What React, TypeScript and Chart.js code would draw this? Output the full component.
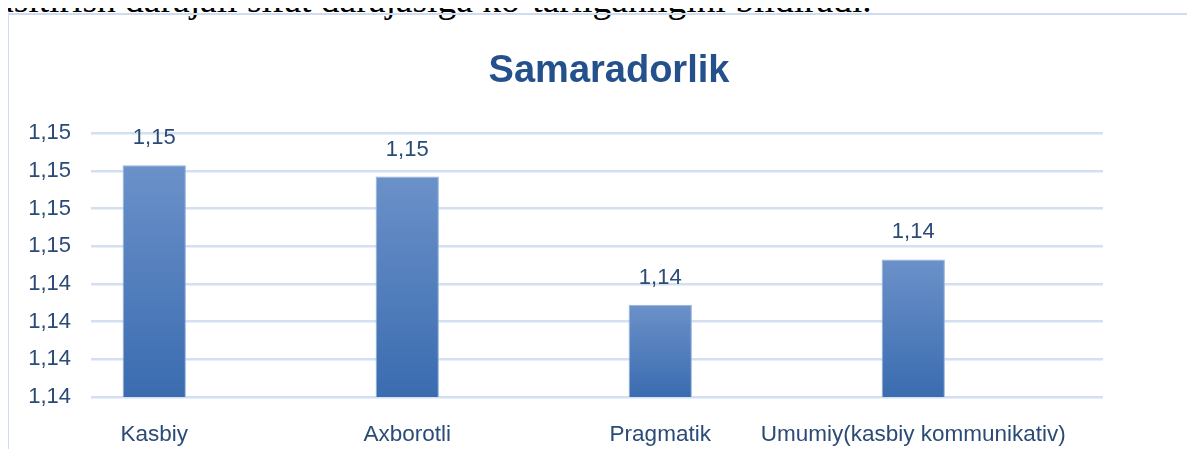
import React, { useEffect, useRef } from "react";
import { Chart, registerables } from "chart.js";

Chart.register(...registerables);

// ---- data ----
const chartTitle = "Samaradorlik";
const categories = ["Kasbiy", "Axborotli", "Pragmatik", "Umumiy(kasbiy kommunikativ)"];
const values = [1.1497, 1.1491, 1.1423, 1.1447];
const yTickValues = [1.1374, 1.1394, 1.1414, 1.1434, 1.1454, 1.1474, 1.1494, 1.1514];
const captionText = "asitirish darajali sifat darajasiga ko\u2018tarilganligini bildiradi.";

const FONT = "'Liberation Sans', Arial, sans-serif";
const TEXT = "#2b4b77";

const fmt = (v: number) => (Math.round(v * 100) / 100).toFixed(2).replace(".", ",");

const valueLabels = {
  id: "valueLabels",
  afterDatasetsDraw(chart: any) {
    const ctx = chart.ctx;
    const meta = chart.getDatasetMeta(0);
    ctx.save();
    ctx.font = `22px ${FONT}`;
    ctx.fillStyle = TEXT;
    ctx.textAlign = "center";
    ctx.textBaseline = "alphabetic";
    meta.data.forEach((el: any, i: number) => {
      ctx.fillText(fmt(values[i]), el.x, el.y - 21);
    });
    ctx.restore();
  },
};

// nudges the title block slightly right, as in the reference layout
const titleNudge = {
  id: "titleNudge",
  afterLayout(chart: any) {
    const t = chart.titleBlock;
    if (t) {
      t.left += 12;
      t.right += 12;
    }
  },
};

export default function App() {
  const ref = useRef<HTMLCanvasElement>(null);

  useEffect(() => {
    if (!ref.current) return;
    const chart = new Chart(ref.current, {
      type: "bar",
      data: {
        datasets: [
          {
            data: categories.map((_, i) => ({ x: i, y: values[i] })),
            backgroundColor: (c: any) => {
              const ch = c.chart;
              if (!ch.chartArea || c.type !== "data" || !c.parsed) return "#4f7fc0";
              const ys = ch.scales.y;
              const top = ys.getPixelForValue(c.parsed.y);
              const bottom = ys.getPixelForValue(ys.min);
              const g = ch.ctx.createLinearGradient(0, top, 0, bottom);
              g.addColorStop(0, "#6b91c9");
              g.addColorStop(1, "#3a6cb0");
              return g;
            },
            borderColor: "#93b2dc",
            borderWidth: 1,
            barPercentage: 0.25,
            categoryPercentage: 1,
          } as any,
        ],
      },
      options: {
        animation: false,
        responsive: true,
        maintainAspectRatio: false,
        layout: { padding: { left: 28, right: 92, top: 0, bottom: 0 } },
        plugins: {
          legend: { display: false },
          tooltip: { enabled: false },
          title: {
            display: true,
            text: chartTitle,
            fullSize: false,
            color: "#24518b",
            font: { family: FONT, size: 38, weight: "bold", lineHeight: 1.2 },
            padding: { top: 48.7, bottom: 39 },
          },
        },
        scales: {
          x: {
            type: "linear",
            offset: false,
            min: -0.25,
            max: 3.75,
            grid: { display: false, offset: false },
            border: { display: false },
            ticks: {
              color: TEXT,
              font: { family: FONT, size: 22.5 },
              padding: 16,
              maxRotation: 0,
              autoSkip: false,
              callback: (v: any) => categories[Math.round(Number(v))] ?? "",
            },
            afterBuildTicks: (s: any) => {
              s.ticks = categories.map((_, i) => ({ value: i }));
            },
            afterFit: (s: any) => {
              s.height = 60;
            },
          },
          y: {
            min: yTickValues[0],
            max: yTickValues[yTickValues.length - 1],
            afterBuildTicks: (s: any) => {
              s.ticks = yTickValues.map((v) => ({ value: v }));
            },
            afterFit: (s: any) => {
              s.width = 63;
            },
            grid: { color: "#d3e0f2", lineWidth: 2.5, drawTicks: false },
            border: { display: false },
            ticks: {
              color: TEXT,
              font: { family: FONT, size: 22 },
              padding: 20,
              callback: (v: any) => fmt(Number(v)),
            },
          },
        },
      } as any,
      plugins: [valueLabels, titleNudge],
    });
    return () => chart.destroy();
  }, []);

  return (
    <div
      style={{
        position: "relative",
        width: 1195,
        height: 457,
        margin: -8,
        overflow: "hidden",
        background: "#ffffff",
      }}
    >
      <div
        style={{
          position: "absolute",
          left: -3,
          top: -19,
          fontFamily: "'Liberation Serif', 'Times New Roman', serif",
          fontSize: 37.5,
          lineHeight: "37.5px",
          whiteSpace: "nowrap",
          color: "#000",
        }}
      >
        {captionText}
      </div>
      <div
        style={{
          position: "absolute",
          left: 7,
          top: 13,
          width: 1300,
          height: 600,
          borderTop: "2px solid #cfdcef",
          borderLeft: "2px solid #cfdcef",
        }}
      />
      <div style={{ position: "absolute", left: 0, top: 0, width: 1195, height: 457 }}>
        <canvas ref={ref} />
      </div>
    </div>
  );
}
